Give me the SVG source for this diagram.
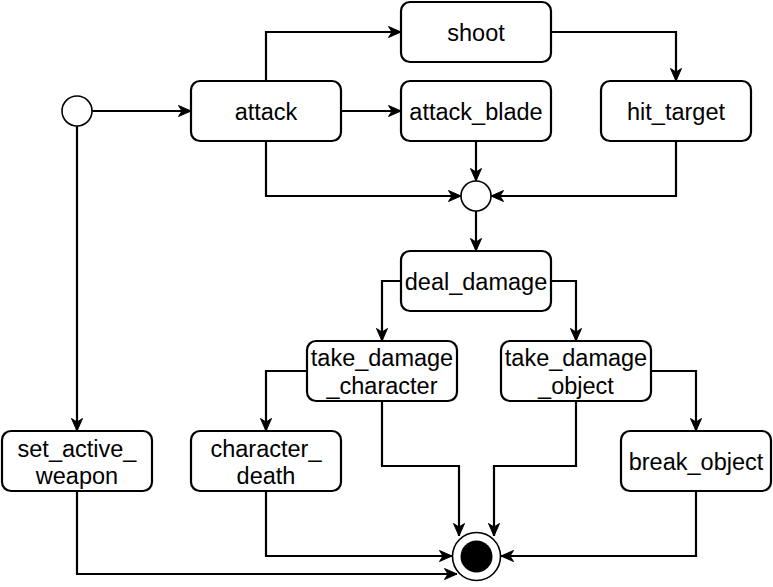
<svg xmlns="http://www.w3.org/2000/svg" width="773" height="587" viewBox="0 0 773 587">
<style>
.box{fill:#fff;stroke:#000;stroke-width:2.2}
.lbl{font-family:"Liberation Sans",Arial,sans-serif;font-size:23.5px;fill:#000;text-anchor:middle}
.edge{fill:none;stroke:#000;stroke-width:2.2;marker-end:url(#arr)}
.circ{fill:#fff;stroke:#000;stroke-width:1.6}
</style>
<defs>
<marker id="arr" markerUnits="userSpaceOnUse" viewBox="0 0 14 12" markerWidth="14" markerHeight="12" refX="13" refY="6" orient="auto">
<path d="M0.5,0.5 L13,6 L0.5,11.5 L4,6 Z" fill="#000" stroke="#000" stroke-width="1" stroke-linejoin="miter"/>
</marker>
</defs>
<rect width="773" height="587" fill="#fff"/>
<g id="connectors">
<path class="edge" d="M92,111 H191"/>
<path class="edge" d="M77,126 V431"/>
<path class="edge" d="M266,81 V32 H401"/>
<path class="edge" d="M341,111 H401"/>
<path class="edge" d="M266,141 V196 H461"/>
<path class="edge" d="M476,141 V181"/>
<path class="edge" d="M551,32 H676 V81"/>
<path class="edge" d="M676,141 V196 H491"/>
<path class="edge" d="M476,211 V251"/>
<path class="edge" d="M401,281 H382 V341"/>
<path class="edge" d="M551,281 H576 V341"/>
<path class="edge" d="M307,371 H266 V431"/>
<path class="edge" d="M382,401 V466 H459 V536"/>
<path class="edge" d="M576,401 V466 H494 V536"/>
<path class="edge" d="M651,371 H696 V431"/>
<path class="edge" d="M266,491 V556 H452"/>
<path class="edge" d="M77,491 V574 H457"/>
<path class="edge" d="M696,491 V556 H501"/>
</g>
<g id="start"><circle class="circ" cx="77" cy="111" r="15"/></g>
<g id="merge"><circle class="circ" cx="476" cy="196" r="15"/></g>
<g id="end">
<circle cx="476.5" cy="556.5" r="24" fill="#fff" stroke="#000" stroke-width="1.6"/>
<circle cx="476.5" cy="556.5" r="16" fill="#000"/>
</g>
<g id="attack"><rect class="box" x="191" y="81" width="150" height="60" rx="9"/><text class="lbl" x="266" y="120">attack</text></g>
<g id="shoot"><rect class="box" x="401" y="2" width="150" height="60" rx="9"/><text class="lbl" x="476" y="41">shoot</text></g>
<g id="attack_blade"><rect class="box" x="401" y="81" width="150" height="60" rx="9"/><text class="lbl" x="476" y="120">attack_blade</text></g>
<g id="hit_target"><rect class="box" x="601" y="81" width="150" height="60" rx="9"/><text class="lbl" x="676" y="120">hit_target</text></g>
<g id="deal_damage"><rect class="box" x="401" y="251" width="150" height="60" rx="9"/><text class="lbl" x="476" y="289.5">deal_damage</text></g>
<g id="take_damage_character"><rect class="box" x="307" y="341" width="150" height="60" rx="9"/><text class="lbl" x="382" y="366">take_damage</text><text class="lbl" x="382" y="393.5">_character</text></g>
<g id="take_damage_object"><rect class="box" x="501" y="341" width="150" height="60" rx="9"/><text class="lbl" x="576" y="366">take_damage</text><text class="lbl" x="576" y="393.5">_object</text></g>
<g id="set_active_weapon"><rect class="box" x="2" y="431" width="150" height="60" rx="9"/><text class="lbl" x="77" y="456.5">set_active_</text><text class="lbl" x="77" y="483.5">weapon</text></g>
<g id="character_death"><rect class="box" x="191" y="431" width="150" height="60" rx="9"/><text class="lbl" x="266" y="456.5">character_</text><text class="lbl" x="266" y="483.5">death</text></g>
<g id="break_object"><rect class="box" x="621" y="431" width="150" height="60" rx="9"/><text class="lbl" x="696" y="469.5">break_object</text></g>
</svg>
